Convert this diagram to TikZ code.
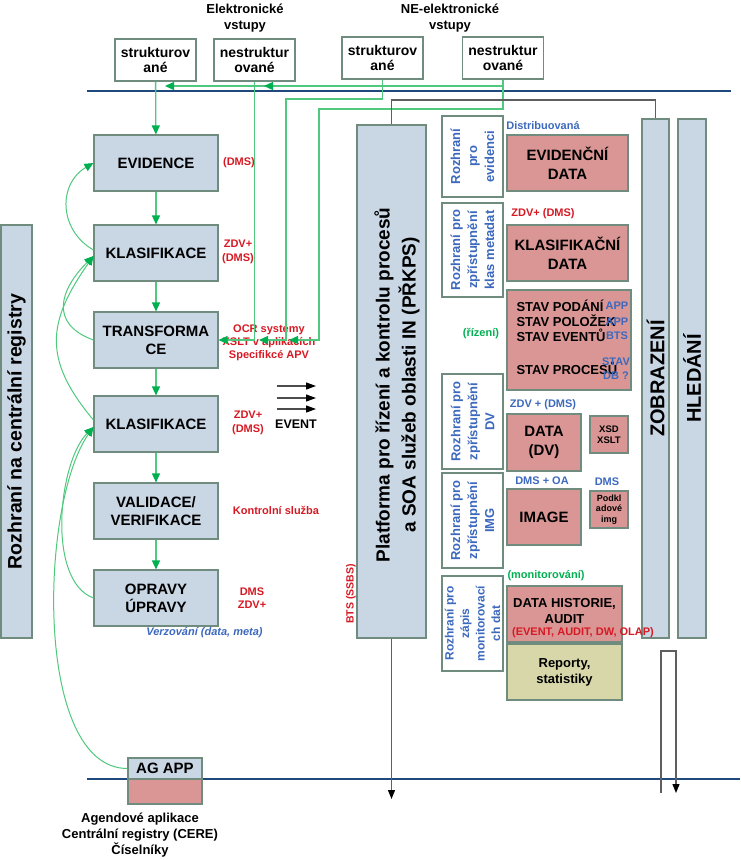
\documentclass[tikz,border=0pt]{standalone}
\usepackage{fontspec}
\setmainfont{Liberation Sans}
\usepackage{tikz}
\usetikzlibrary{arrows.meta}

\definecolor{boxblue}{RGB}{201,214,228}
\definecolor{boxedge}{RGB}{112,140,126}
\definecolor{datapink}{RGB}{217,150,148}
\definecolor{repolive}{RGB}{215,215,170}
\definecolor{flowgreen}{RGB}{80,200,125}
\definecolor{tipgreen}{RGB}{0,176,80}
\definecolor{busblue}{RGB}{31,73,125}
\definecolor{txtblue}{RGB}{60,105,190}
\definecolor{txtred}{RGB}{215,25,35}
\definecolor{txtgreen}{RGB}{0,176,80}
\definecolor{tiegrey}{RGB}{95,95,95}

\begin{document}
\begin{tikzpicture}[x=1pt,y=-1pt]
% Styles
\tikzset{
    inbox/.style={draw=boxedge,line width=1.1pt,fill=white,inner sep=0pt,minimum width=81pt,minimum height=42pt,align=center,font=\bfseries\fontsize{14}{15.5}\selectfont},
    procbox/.style={draw=boxedge,line width=1.1pt,fill=boxblue,inner sep=0pt,minimum width=124pt,minimum height=56pt,align=center,font=\bfseries\fontsize{15}{18}\selectfont},
    colbox/.style={draw=boxedge,line width=1.1pt,fill=boxblue,inner sep=0pt},
    coltxt/.style={rotate=90,align=center,font=\bfseries\fontsize{20}{23}\selectfont},
    ifbox/.style={draw=boxedge,line width=1.1pt,fill=white,inner sep=0pt,rotate=90,minimum height=61pt,align=center,text=txtblue,font=\bfseries\fontsize{13}{17}\selectfont},
    databox/.style={draw=boxedge,line width=1.1pt,fill=datapink,inner sep=0pt,align=center,font=\bfseries\fontsize{15}{19}\selectfont},
    smallbox/.style={databox,minimum width=38pt,minimum height=37pt,font=\bfseries\fontsize{9}{10.5}\selectfont},
    lab/.style={align=center,font=\bfseries\fontsize{13}{16}\selectfont},
    rednote/.style={align=center,text=txtred,font=\bfseries\fontsize{11}{13.5}\selectfont},
    bluenote/.style={align=center,text=txtblue,font=\bfseries\fontsize{11}{14}\selectfont},
    greennote/.style={text=txtgreen,font=\bfseries\fontsize{11}{13}\selectfont},
    bus/.style={draw=busblue,line width=2.2pt},
    flow/.style={draw=flowgreen,line width=1.3pt,-{Triangle[length=9pt,width=8pt,color=tipgreen]}},
    loop/.style={draw=flowgreen,line width=1pt,-{Triangle[length=9pt,width=8pt,color=tipgreen]}},
    tie/.style={draw=tiegrey,line width=1.2pt},
    tiearrow/.style={tie,-{Triangle[length=9pt,width=7pt,color=black]}},
    evarrow/.style={draw=black!70,line width=1.2pt,-{Triangle[length=10pt,width=7pt,color=black]}}
}
\useasboundingbox (0,0) rectangle (740,860);
% Bus lines
\draw[bus] (87,91) -- (731,91);
\draw[bus] (87,779) -- (740,779);
% Inputs
\draw (245,18) node[lab] (ElIn){Elektronické\\vstupy};
\draw (450,18) node[lab] (NeIn){NE-elektronické\\vstupy};
\draw (155.5,60) node[inbox] (Es){strukturov\\ané};
\draw (254.5,60) node[inbox] (En){nestruktur\\ované};
\draw (382.5,58) node[inbox] (Ns){strukturov\\ané};
\draw (503,58) node[inbox] (Nn){nestruktur\\ované};
% Process chain
\draw (156,163) node[procbox] (Evid){EVIDENCE};
\draw (156,253) node[procbox] (Klasa){KLASIFIKACE};
\draw (156,340) node[procbox] (Trans){TRANSFORMA\\CE};
\draw (156,424) node[procbox] (Klasb){KLASIFIKACE};
\draw (156,511) node[procbox] (Valid){VALIDACE/\\VERIFIKACE};
\draw (156,598) node[procbox] (Oprav){OPRAVY\\ÚPRAVY};
% Columns
\draw (16.5,431.5) node[colbox,minimum width=31pt,minimum height=413pt] (Creg){};
\draw (Creg) node[coltxt,font=\bfseries\fontsize{19.5}{22}\selectfont] (CregTxt){Rozhraní na centrální registry};
\draw (391.5,381.5) node[colbox,minimum width=69pt,minimum height=513pt] (Plat){};
\draw (397,385) node[coltxt,font=\bfseries\fontsize{19}{26}\selectfont] (PlatTxt){Platforma pro řízení a kontrolu procesů\\a SOA služeb oblasti IN (PŘKPS)};
\draw (655.5,378.5) node[colbox,minimum width=27pt,minimum height=519pt] (Zob){};
\draw (Zob) node[coltxt] (ZobTxt){ZOBRAZENÍ};
\draw (692,378.5) node[colbox,minimum width=28pt,minimum height=519pt] (Hled){};
\draw (Hled) node[coltxt] (HledTxt){HLEDÁNÍ};
% Interfaces
\draw (472.5,156.5) node[ifbox,minimum width=81pt] (Rev){Rozhraní\\pro\\evidenci};
\draw (472.5,250) node[ifbox,minimum width=94pt] (Rkl){Rozhraní pro\\zpřístupnění\\klas metadat};
\draw (472.5,421.5) node[ifbox,minimum width=95pt] (Rdv){Rozhraní pro\\zpřístupnění\\DV};
\draw (472.5,520.5) node[ifbox,minimum width=95pt] (Rimg){Rozhraní pro\\zpřístupnění\\IMG};
\draw (472.5,623.5) node[ifbox,minimum width=95pt,font=\bfseries\fontsize{12}{15.5}\selectfont] (Rmon){Rozhraní pro\\zápis\\monitorovací\\ch dat};
% Data
\draw (567.5,163) node[databox,minimum width=121pt,minimum height=56pt] (EvD){EVIDENČNÍ\\DATA};
\draw (567.5,253) node[databox,minimum width=121pt,minimum height=56pt] (KlD){KLASIFIKAČNÍ\\DATA};
\draw (569,340) node[databox,minimum width=124pt,minimum height=100pt] (Stav){};
\draw (513,337.5) node[anchor=west,align=left,font=\bfseries\fontsize{13}{15}\selectfont] (StavTxt){STAV PODÁNÍ\\STAV POLOŽEK\\STAV EVENTŮ\\[18pt]STAV PROCESŮ};
\draw (544,442.5) node[databox,minimum width=74pt,minimum height=57pt] (DvD){DATA\\(DV)};
\draw (609,434.5) node[smallbox,font=\bfseries\fontsize{9.5}{11}\selectfont] (Xsd){XSD\\XSLT};
\draw (544,517) node[databox,minimum width=74pt,minimum height=56pt] (Img){IMAGE};
\draw (609,509.5) node[smallbox] (Podk){Podkl\\adové\\img};
\draw (564.5,614) node[databox,minimum width=115pt,minimum height=56pt] (Hist){};
\draw (564.5,611) node[align=center,font=\bfseries\fontsize{13}{15.5}\selectfont] (HistTxt){DATA HISTORIE,\\AUDIT};
\draw (564.5,672) node[databox,fill=repolive,minimum width=115pt,minimum height=56pt,font=\bfseries\fontsize{13}{16}\selectfont] (Rep){Reporty,\\statistiky};
% AG APP
\draw (165,768.5) node[procbox,minimum width=74pt,minimum height=21pt] (Ag){AG APP};
\draw (165,791.5) node[databox,minimum width=74pt,minimum height=25pt] (Agb){};
\draw (140,835) node[lab] (AgTxt){Agendové aplikace\\Centrální registry (CERE)\\Číselníky};
% Notes
\draw (239,163) node[rednote] (nEvid){(DMS)};
\draw (238,252) node[rednote] (nKlasa){ZDV+\\(DMS)};
\draw (269,343) node[rednote,font=\bfseries\fontsize{11}{13}\selectfont] (nTrans){OCR systémy\\XSLT v aplikacích\\Specifikcé APV};
\draw (248,423) node[rednote] (nKlasb){ZDV+\\(DMS)};
\draw (276,510) node[rednote] (nValid){Kontrolní služba};
\draw (252,598) node[rednote] (nOprav){DMS\\ZDV+};
\draw (204.5,633) node[bluenote,font=\bfseries\itshape\fontsize{11}{13}\selectfont] (nVerz){Verzování (data, meta)};
\draw (351,594) node[rednote,rotate=90,font=\bfseries\fontsize{10.5}{12}\selectfont] (nBts){BTS (SSBS)};
\draw (543,126) node[bluenote] (nDist){Distribuovaná};
\draw (543,214) node[rednote] (nKlD){ZDV+ (DMS)};
\draw (481,334) node[greennote] (nRiz){(řízení)};
\draw (617,306) node[bluenote] (sApp){APP};
\draw (617,322) node[bluenote] (sAppb){APP};
\draw (617,336) node[bluenote] (sBts){BTS};
\draw (616,369) node[bluenote] (sDb){STAV\\DB ?};
\draw (543,405) node[bluenote] (nDv){ZDV + (DMS)};
\draw (542,481) node[bluenote] (nImg){DMS + OA};
\draw (607,482) node[bluenote] (nPodk){DMS};
\draw (546,576) node[greennote] (nMon){(monitorování)};
\draw (583,633) node[rednote] (nHist){(EVENT, AUDIT, DW, OLAP)};
\draw (296,424) node[lab,font=\bfseries\fontsize{12.5}{14}\selectfont] (Event){EVENT};
\foreach \dy in {38,26,15}
    \draw[evarrow] ([shift={(-19,-\dy)}]Event.center) -- ++(39,0);
% Connect process chain
\draw[flow] (Es) -- (Evid);
\foreach \a/\b in {Evid/Klasa,Klasa/Trans,Trans/Klasb,Klasb/Valid,Valid/Oprav}
    \draw[flow] (\a) -- (\b);
\draw[loop] ([yshift=3pt]Klasa.west) to[out=150,in=210,looseness=1.2] (Evid.west);
\draw[loop] (Trans.west) to[out=160,in=225,looseness=1.45] ([yshift=-3pt]Klasa.west);
\draw[loop] ([yshift=4pt]Klasb.west) to[out=130,in=235,looseness=1.25] ([yshift=-3pt]Klasa.west);
\draw[loop] (Oprav.west) to[out=160,in=225,looseness=0.75] ([yshift=-3pt]Klasb.west);
\draw[loop] (Ag.west) to[out=180,in=235,looseness=0.7] ([yshift=-3pt]Klasb.west);
% Inputs to transformation
\coordinate (gA) at (165,86);
\coordinate (gB) at (264,86);
\coordinate (gC) at (286,99);
\coordinate (gD) at (259,340);
\coordinate (gE) at (319,109);
\coordinate (gF) at (289,340);
\draw[flow] (Nn.south) |- (gA);
\draw[flow] (Nn.south) |- (gB);
\draw[flow] (En.south) |- (Trans.east);
\draw[flow] (Ns.south) |- (gC) |- (gD);
\draw[flow] (Nn.south) |- (gE) |- (gF);
% Platform connections
\coordinate (pTop) at (391.5,100);
\coordinate (pEnd) at (391.5,799);
\draw[tie] (Plat.north) -- (pTop) -| (Zob.north);
\draw[tiearrow] (Plat.south) -- (pEnd);
\coordinate (uA) at (661,793);
\coordinate (uB) at (676,651);
\coordinate (uC) at (676,793);
\draw[tiearrow] (uA) |- (uB) -- (uC);
\end{tikzpicture}
\end{document}
